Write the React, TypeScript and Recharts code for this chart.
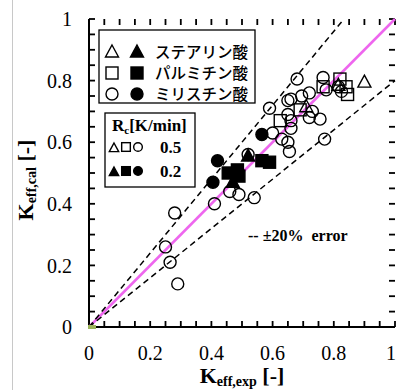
import { ScatterChart, Scatter, XAxis, YAxis } from "recharts";

// Open markers: cooling rate 0.5 K/min, filled: 0.2 K/min
const STEARIC_05 = [
  { x: 0.9, y: 0.795 },
  { x: 0.815, y: 0.785 },
  { x: 0.71, y: 0.715 },
];
const STEARIC_02 = [
  { x: 0.47, y: 0.47 },
  { x: 0.52, y: 0.555 },
];
const PALMITIC_05 = [
  { x: 0.625, y: 0.67 },
  { x: 0.69, y: 0.705 },
  { x: 0.765, y: 0.78 },
  { x: 0.82, y: 0.805 },
  { x: 0.84, y: 0.78 },
  { x: 0.845, y: 0.755 },
];
const PALMITIC_02 = [
  { x: 0.455, y: 0.5 },
  { x: 0.485, y: 0.51 },
  { x: 0.49, y: 0.49 },
  { x: 0.565, y: 0.54 },
  { x: 0.59, y: 0.535 },
];
const MYRISTIC_05 = [
  { x: 0.28, y: 0.37 },
  { x: 0.25, y: 0.26 },
  { x: 0.265, y: 0.21 },
  { x: 0.29, y: 0.14 },
  { x: 0.41, y: 0.4 },
  { x: 0.46, y: 0.44 },
  { x: 0.49, y: 0.43 },
  { x: 0.54, y: 0.42 },
  { x: 0.52, y: 0.56 },
  { x: 0.59, y: 0.71 },
  { x: 0.6, y: 0.63 },
  { x: 0.63, y: 0.61 },
  { x: 0.65, y: 0.6 },
  { x: 0.655, y: 0.57 },
  { x: 0.65, y: 0.69 },
  { x: 0.65, y: 0.735 },
  { x: 0.66, y: 0.74 },
  { x: 0.66, y: 0.67 },
  { x: 0.66, y: 0.645 },
  { x: 0.695, y: 0.75 },
  { x: 0.72, y: 0.76 },
  { x: 0.72, y: 0.68 },
  { x: 0.73, y: 0.7 },
  { x: 0.755, y: 0.675 },
  { x: 0.77, y: 0.61 },
  { x: 0.68, y: 0.805 },
  { x: 0.765, y: 0.81 },
  { x: 0.775, y: 0.77 },
  { x: 0.815, y: 0.78 },
  { x: 0.825, y: 0.765 },
];
const MYRISTIC_02 = [
  { x: 0.42, y: 0.54 },
  { x: 0.405, y: 0.47 },
  { x: 0.565, y: 0.625 },
];

// y = x and the +-20 % band
const PARITY = [
  { x: 0, y: 0 },
  { x: 1, y: 1 },
];
const UPPER_20 = [
  { x: 0, y: 0 },
  { x: 0.8333, y: 1 },
];
const LOWER_20 = [
  { x: 0, y: 0 },
  { x: 1, y: 0.8 },
];
const ORIGIN = [{ x: 0, y: 0 }];

const MINOR_TICKS = [
  0, 0.05, 0.1, 0.15, 0.2, 0.25, 0.3, 0.35, 0.4, 0.45, 0.5, 0.55, 0.6, 0.65, 0.7, 0.75, 0.8, 0.85, 0.9, 0.95, 1,
];
const MAJOR_TICKS = [0, 0.2, 0.4, 0.6, 0.8, 1];
const TICK_LABELS = ["0", "0.2", "0.4", "0.6", "0.8", "1"];

const SERIF = "'Liberation Serif', 'Times New Roman', serif";
const JP = "'Noto Sans CJK JP', sans-serif";

const fmt = (v: number) => {
  const i = MAJOR_TICKS.findIndex((m) => Math.abs(m - v) < 1e-6);
  return i >= 0 ? TICK_LABELS[i] : "";
};

// inward tick marks on all four frame sides, placed through the chart scales
const bottomMarks = MINOR_TICKS.map((v) => ({ x: v, y: 0 }));
const topMarks = MINOR_TICKS.map((v) => ({ x: v, y: 1 }));
const leftMarks = MINOR_TICKS.map((v) => ({ x: 0, y: v }));
const rightMarks = MINOR_TICKS.map((v) => ({ x: 1, y: v }));

const TL = 6;
const tickShape = (dx: number, dy: number) => (p: any) =>
  <path d={`M${p.cx},${p.cy}L${p.cx + dx},${p.cy + dy}`} stroke="#000" strokeWidth={1.8} fill="none" />;

const tickFont = { fontFamily: SERIF, fontSize: 20, fill: "#000" };
const frame = { stroke: "#000", strokeWidth: 2 };

type Kind = "tri" | "sq" | "circ";
const drawMarker = (kind: Kind, filled: boolean, cx: number, cy: number, s = 1) => {
  const fill = filled ? "#000" : "none";
  const sw = 1.4;
  if (kind === "circ") return <circle cx={cx} cy={cy} r={6 * s} fill={fill} stroke="#000" strokeWidth={sw} />;
  if (kind === "sq")
    return <rect x={cx - 6 * s} y={cy - 6 * s} width={12 * s} height={12 * s} fill={fill} stroke="#000" strokeWidth={sw} />;
  return (
    <polygon
      points={`${cx},${cy - 7 * s} ${cx + 6.5 * s},${cy + 5 * s} ${cx - 6.5 * s},${cy + 5 * s}`}
      fill={fill}
      stroke="#000"
      strokeWidth={sw}
    />
  );
};
const shapeOf = (kind: Kind, filled: boolean) => (p: any) => drawMarker(kind, filled, p.cx, p.cy);
const noShape = () => <g />;
const originShape = (p: any) => <rect x={p.cx - 1} y={p.cy - 2} width={8} height={4} fill="#9bb35a" />;

export default function App() {
  return (
    <div style={{ position: "relative", width: 396, height: 390, background: "#fff" }}>
      <style>{"body{margin:0}"}</style>
      <div style={{ position: "absolute", left: 12, top: 0, width: 1, height: 390, background: "#c8c8c8" }} />

      {/* legends and titles sit underneath the (transparent) chart surface */}
      <svg width={396} height={390} style={{ position: "absolute", left: 0, top: 0 }}>
        <rect x={99} y={30} width={156} height={73} fill="#fff" stroke="#000" strokeWidth={1.3} />
        {[
          { k: "tri" as Kind, t: "ステアリン酸", y: 52 },
          { k: "sq" as Kind, t: "パルミチン酸", y: 73 },
          { k: "circ" as Kind, t: "ミリスチン酸", y: 94 },
        ].map((r) => (
          <g key={r.t}>
            {drawMarker(r.k, false, 112, r.y)}
            {drawMarker(r.k, true, 137, r.y)}
            <text x={155} y={r.y + 6} fontFamily={JP} fontWeight={500} fontSize={15.5} fill="#000">
              {r.t}
            </text>
          </g>
        ))}

        <rect x={105} y={113} width={90} height={74} fill="#fff" stroke="#000" strokeWidth={1.3} />
        <text x={112} y={131} fontFamily={SERIF} fontWeight="bold" fontSize={17} fill="#000">
          R<tspan fontSize={11} dy={3}>c</tspan>
          <tspan dy={-3}>[K/min]</tspan>
        </text>
        {drawMarker("tri", false, 114, 148, 0.72)}
        {drawMarker("sq", false, 126, 147, 0.72)}
        {drawMarker("circ", false, 138, 147, 0.72)}
        <text x={160} y={153} fontFamily={SERIF} fontWeight="bold" fontSize={17} fill="#000">
          0.5
        </text>
        {drawMarker("tri", true, 114, 172, 0.72)}
        {drawMarker("sq", true, 126, 171, 0.72)}
        {drawMarker("circ", true, 138, 171, 0.72)}
        <text x={160} y={177} fontFamily={SERIF} fontWeight="bold" fontSize={17} fill="#000">
          0.2
        </text>

        <text x={248} y={241} fontFamily={SERIF} fontWeight="bold" fontSize={16} fill="#000" xmlSpace="preserve">
          {"-- ±20%  error"}
        </text>

        <text x={242} y={383} textAnchor="middle" fontFamily={SERIF} fontWeight="bold" fontSize={22} fill="#000">
          K<tspan fontSize={14} dy={3}>eff,exp</tspan>
          <tspan dy={-3}> [-]</tspan>
        </text>
        <text
          transform="translate(33,180) rotate(-90)"
          textAnchor="middle"
          fontFamily={SERIF}
          fontWeight="bold"
          fontSize={22}
          fill="#000"
        >
          K<tspan fontSize={14} dy={3}>eff,cal</tspan>
          <tspan dy={-3}> [-]</tspan>
        </text>
      </svg>

      <ScatterChart width={396} height={390} margin={{ top: 19, right: 1, bottom: 0, left: 0 }}>
        <XAxis
          type="number"
          dataKey="x"
          domain={[0, 1]}
          ticks={MAJOR_TICKS}
          height={63}
          tickMargin={13}
          tickLine={false}
          tick={tickFont}
          tickFormatter={fmt}
          axisLine={frame}
        />
        <XAxis
          xAxisId="top"
          orientation="top"
          type="number"
          dataKey="x"
          domain={[0, 1]}
          height={0}
          tick={false}
          tickLine={false}
          axisLine={frame}
        />
        <YAxis
          type="number"
          dataKey="y"
          domain={[0, 1]}
          ticks={MAJOR_TICKS}
          width={89}
          tickMargin={11}
          tickLine={false}
          tick={tickFont}
          tickFormatter={fmt}
          axisLine={frame}
        />
        <YAxis
          yAxisId="right"
          orientation="right"
          type="number"
          dataKey="y"
          domain={[0, 1]}
          width={0}
          tick={false}
          tickLine={false}
          axisLine={frame}
        />
        <Scatter data={bottomMarks} shape={tickShape(0, -TL)} isAnimationActive={false} />
        <Scatter data={topMarks} shape={tickShape(0, TL)} isAnimationActive={false} />
        <Scatter data={leftMarks} shape={tickShape(TL, 0)} isAnimationActive={false} />
        <Scatter data={rightMarks} shape={tickShape(-TL, 0)} isAnimationActive={false} />
        <Scatter
          xAxisId="top"
          yAxisId="right"
          data={PARITY}
          line={{ stroke: "#ee66ee", strokeWidth: 2.5 }}
          shape={noShape}
          isAnimationActive={false}
        />
        <Scatter
          data={UPPER_20}
          line={{ stroke: "#000", strokeWidth: 1.5, strokeDasharray: "6 4" }}
          shape={noShape}
          isAnimationActive={false}
        />
        <Scatter
          data={LOWER_20}
          line={{ stroke: "#000", strokeWidth: 1.5, strokeDasharray: "6 4" }}
          shape={noShape}
          isAnimationActive={false}
        />
        <Scatter data={ORIGIN} shape={originShape} isAnimationActive={false} />
        <Scatter data={MYRISTIC_05} shape={shapeOf("circ", false)} isAnimationActive={false} />
        <Scatter data={PALMITIC_05} shape={shapeOf("sq", false)} isAnimationActive={false} />
        <Scatter data={STEARIC_05} shape={shapeOf("tri", false)} isAnimationActive={false} />
        <Scatter data={MYRISTIC_02} shape={shapeOf("circ", true)} isAnimationActive={false} />
        <Scatter data={PALMITIC_02} shape={shapeOf("sq", true)} isAnimationActive={false} />
        <Scatter data={STEARIC_02} shape={shapeOf("tri", true)} isAnimationActive={false} />
      </ScatterChart>
    </div>
  );
}
